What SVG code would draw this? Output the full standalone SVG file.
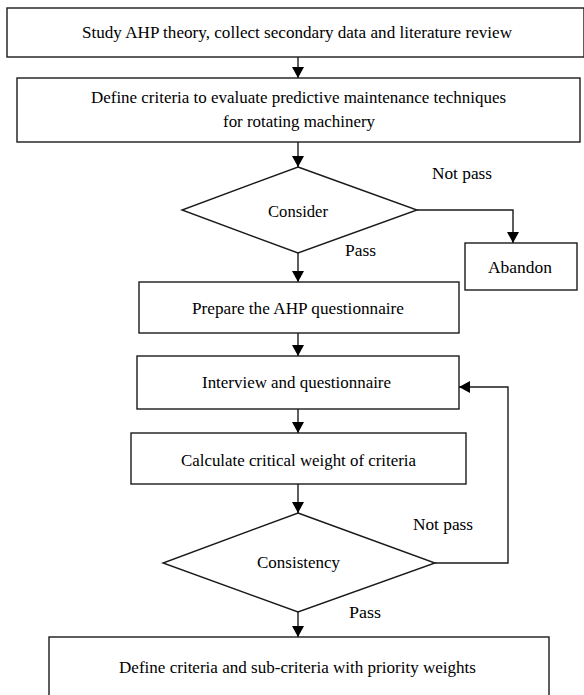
<svg xmlns="http://www.w3.org/2000/svg" width="584" height="695" viewBox="0 0 584 695">
<style>
.box{fill:#fff;stroke:#1a1a1a;stroke-width:1.4}
.t{font-family:'Liberation Serif','Times New Roman',serif;font-size:17px;fill:#000;text-anchor:middle}
.c{fill:none;stroke:#1a1a1a;stroke-width:1.4}
</style>
<defs>
<marker id="ah" markerUnits="userSpaceOnUse" markerWidth="12" markerHeight="13" refX="11" refY="6" orient="auto">
<path d="M0,0 L11,6 L0,12 Z" fill="#000"/>
</marker>
</defs>
<rect width="584" height="695" fill="#fff"/>
<g id="connectors">
<path class="c" d="M298,57 V78" marker-end="url(#ah)"/>
<path class="c" d="M298,142 V167" marker-end="url(#ah)"/>
<path class="c" d="M417,210 H513 V243" marker-end="url(#ah)"/>
<path class="c" d="M298,253 V282" marker-end="url(#ah)"/>
<path class="c" d="M298,333 V356" marker-end="url(#ah)"/>
<path class="c" d="M298,409 V433" marker-end="url(#ah)"/>
<path class="c" d="M298,484 V513" marker-end="url(#ah)"/>
<path class="c" d="M435,563 H508 V387 H459" marker-end="url(#ah)"/>
<path class="c" d="M298,612 V637" marker-end="url(#ah)"/>
</g>
<g id="study">
<rect class="box" x="7" y="8" width="577" height="49"/>
<text class="t" x="297" y="38" textLength="430" lengthAdjust="spacingAndGlyphs">Study AHP theory, collect secondary data and literature review</text>
</g>
<g id="define">
<rect class="box" x="17" y="78" width="563" height="64"/>
<text class="t" x="298.5" y="103" textLength="415" lengthAdjust="spacingAndGlyphs">Define criteria to evaluate predictive maintenance techniques</text>
<text class="t" x="299" y="127" textLength="152" lengthAdjust="spacingAndGlyphs">for rotating machinery</text>
</g>
<g id="consider">
<polygon class="box" points="298,167 417,210 298,253 182,210"/>
<text class="t" x="298" y="217" textLength="60" lengthAdjust="spacingAndGlyphs">Consider</text>
</g>
<g id="abandon">
<rect class="box" x="465" y="243" width="112" height="47"/>
<text class="t" x="520" y="273" textLength="64" lengthAdjust="spacingAndGlyphs">Abandon</text>
</g>
<g id="prepare">
<rect class="box" x="139" y="282" width="320" height="51"/>
<text class="t" x="298" y="314" textLength="212" lengthAdjust="spacingAndGlyphs">Prepare the AHP questionnaire</text>
</g>
<g id="interview">
<rect class="box" x="137" y="356" width="322" height="53"/>
<text class="t" x="296.5" y="388" textLength="189" lengthAdjust="spacingAndGlyphs">Interview and questionnaire</text>
</g>
<g id="calculate">
<rect class="box" x="131" y="433" width="335" height="51"/>
<text class="t" x="298.5" y="466" textLength="235" lengthAdjust="spacingAndGlyphs">Calculate critical  weight of criteria</text>
</g>
<g id="consistency">
<polygon class="box" points="298,513 435,563 298,612 163,563"/>
<text class="t" x="298.5" y="568" textLength="83" lengthAdjust="spacingAndGlyphs">Consistency</text>
</g>
<g id="final">
<rect class="box" x="49" y="637" width="500" height="70"/>
<text class="t" x="297.5" y="673" textLength="357" lengthAdjust="spacingAndGlyphs">Define criteria and sub-criteria with priority weights</text>
</g>
<g id="labels">
<text class="t" x="462" y="179" textLength="60" lengthAdjust="spacingAndGlyphs">Not pass</text>
<text class="t" x="360.5" y="256" textLength="31" lengthAdjust="spacingAndGlyphs">Pass</text>
<text class="t" x="443" y="530" textLength="60" lengthAdjust="spacingAndGlyphs">Not pass</text>
<text class="t" x="365" y="618" textLength="32" lengthAdjust="spacingAndGlyphs">Pass</text>
</g>
</svg>
